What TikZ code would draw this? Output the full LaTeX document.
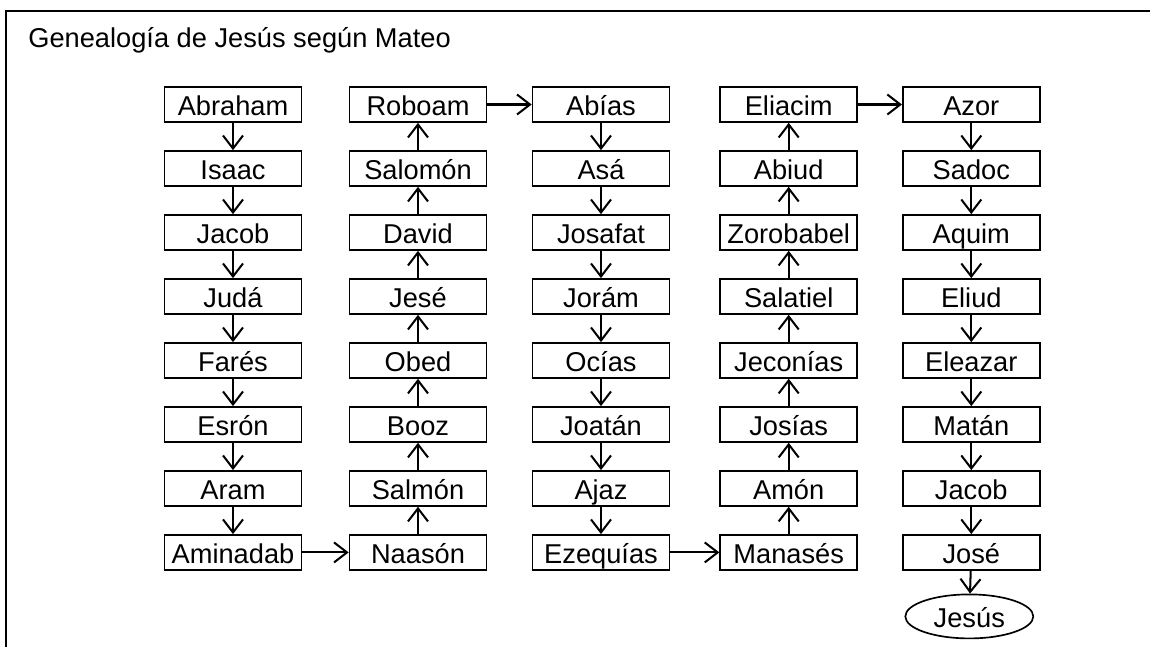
\documentclass[tikz,border=0pt]{standalone}
\usepackage{fontspec}
\setmainfont{Liberation Sans}
\usetikzlibrary{arrows.meta,shapes.geometric}

\begin{document}
\begin{tikzpicture}[x=0.02cm, y=-0.02cm, node distance=1.28cm,
  box/.style={draw, rectangle, line width=0.95pt, minimum width=2.74cm, minimum height=0.7cm, inner sep=0pt, text height=13pt, text depth=0pt, font=\fontsize{15.5}{18}\selectfont},
  link/.style={-{Straight Barb[length=2.6mm,width=4mm]}, line width=1.15pt}]
  \useasboundingbox (0,0) rectangle (1150,647);
  % Frame and title
  \draw[line width=1.15pt] (6,647) -- (6,11) -- (1150,11);
  \node[anchor=base west, inner sep=0pt, font=\fontsize{15.5}{18}\selectfont] (title) at (28,47) {Genealogía de Jesús según Mateo};
  % First column
  \node[box] (abraham) at (233,104.5) {Abraham};
  \node[box, below of=abraham] (isaac) {Isaac};
  \node[box, below of=isaac] (jacob) {Jacob};
  \node[box, below of=jacob] (juda) {Judá};
  \node[box, below of=juda] (fares) {Farés};
  \node[box, below of=fares] (esron) {Esrón};
  \node[box, below of=esron] (aram) {Aram};
  \node[box, below of=aram] (aminadab) {Aminadab};
  % Second column
  \node[box] (roboam) at (418,104.5) {Roboam};
  \node[box, below of=roboam] (salomon) {Salomón};
  \node[box, below of=salomon] (david) {David};
  \node[box, below of=david] (jese) {Jesé};
  \node[box, below of=jese] (obed) {Obed};
  \node[box, below of=obed] (booz) {Booz};
  \node[box, below of=booz] (salmon) {Salmón};
  \node[box, below of=salmon] (naason) {Naasón};
  % Third column
  \node[box] (abias) at (601,104.5) {Abías};
  \node[box, below of=abias] (asa) {Asá};
  \node[box, below of=asa] (josafat) {Josafat};
  \node[box, below of=josafat] (joram) {Jorám};
  \node[box, below of=joram] (ocias) {Ocías};
  \node[box, below of=ocias] (joatan) {Joatán};
  \node[box, below of=joatan] (ajaz) {Ajaz};
  \node[box, below of=ajaz] (ezequias) {Ezequías};
  % Fourth column
  \node[box] (eliacim) at (788.7,104.5) {Eliacim};
  \node[box, below of=eliacim] (abiud) {Abiud};
  \node[box, below of=abiud] (zorobabel) {Zorobabel};
  \node[box, below of=zorobabel] (salatiel) {Salatiel};
  \node[box, below of=salatiel] (jeconias) {Jeconías};
  \node[box, below of=jeconias] (josias) {Josías};
  \node[box, below of=josias] (amon) {Amón};
  \node[box, below of=amon] (manases) {Manasés};
  % Fifth column
  \node[box] (azor) at (971.3,104.5) {Azor};
  \node[box, below of=azor] (sadoc) {Sadoc};
  \node[box, below of=sadoc] (aquim) {Aquim};
  \node[box, below of=aquim] (eliud) {Eliud};
  \node[box, below of=eliud] (eleazar) {Eleazar};
  \node[box, below of=eleazar] (matan) {Matán};
  \node[box, below of=matan] (jacob2) {Jacob};
  \node[box, below of=jacob2] (jose) {José};
  \node[box, ellipse, below of=jose, xshift=-0.04cm, minimum width=2.56cm, minimum height=0.88cm] (jesus) {Jesús};
  % Connections
  \draw[link] (abraham) -- (isaac);
  \draw[link] (isaac) -- (jacob);
  \draw[link] (jacob) -- (juda);
  \draw[link] (juda) -- (fares);
  \draw[link] (fares) -- (esron);
  \draw[link] (esron) -- (aram);
  \draw[link] (aram) -- (aminadab);
  \draw[link] (aminadab) -- (naason);
  \draw[link] (naason) -- (salmon);
  \draw[link] (salmon) -- (booz);
  \draw[link] (booz) -- (obed);
  \draw[link] (obed) -- (jese);
  \draw[link] (jese) -- (david);
  \draw[link] (david) -- (salomon);
  \draw[link] (salomon) -- (roboam);
  \draw[link] (roboam) -- (abias);
  \draw[link] (abias) -- (asa);
  \draw[link] (asa) -- (josafat);
  \draw[link] (josafat) -- (joram);
  \draw[link] (joram) -- (ocias);
  \draw[link] (ocias) -- (joatan);
  \draw[link] (joatan) -- (ajaz);
  \draw[link] (ajaz) -- (ezequias);
  \draw[link] (ezequias) -- (manases);
  \draw[link] (manases) -- (amon);
  \draw[link] (amon) -- (josias);
  \draw[link] (josias) -- (jeconias);
  \draw[link] (jeconias) -- (salatiel);
  \draw[link] (salatiel) -- (zorobabel);
  \draw[link] (zorobabel) -- (abiud);
  \draw[link] (abiud) -- (eliacim);
  \draw[link] (eliacim) -- (azor);
  \draw[link] (azor) -- (sadoc);
  \draw[link] (sadoc) -- (aquim);
  \draw[link] (aquim) -- (eliud);
  \draw[link] (eliud) -- (eleazar);
  \draw[link] (eleazar) -- (matan);
  \draw[link] (matan) -- (jacob2);
  \draw[link] (jacob2) -- (jose);
  \draw[link] (jose) -- (jesus);
\end{tikzpicture}
\end{document}
